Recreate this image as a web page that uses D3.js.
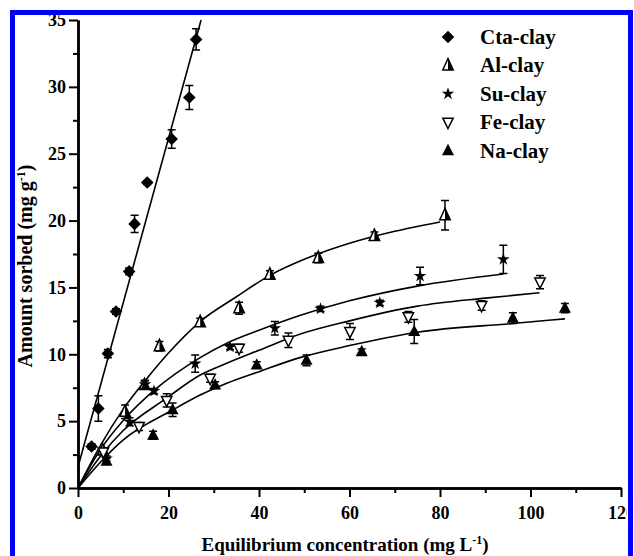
<!DOCTYPE html>
<html>
<head>
<meta charset="utf-8">
<script src="https://cdn.jsdelivr.net/npm/d3@7"></script>
<style>
  body { margin: 0; background: #fff; }
  svg { display: block; }
  text { font-family: "Liberation Serif", "Times New Roman", serif; font-weight: bold; fill: #000; }
</style>
</head>
<body>
<svg width="634" height="556"></svg>
<script>
// measured points (equilibrium concentration, amount sorbed, error)
var ctaConc = [3.0, 4.5, 6.6, 8.4, 11.3, 12.5, 15.3, 20.7, 24.6, 26.1],
    ctaAmount = [3.1, 5.95, 10.05, 13.2, 16.2, 19.75, 22.85, 26.1, 29.2, 33.55],
    ctaErr = [0.2, 0.95, 0.3, 0.2, 0.25, 0.65, 0.15, 0.7, 0.9, 0.8];

var alConc = [5.5, 10.4, 14.7, 18.0, 27.0, 35.6, 42.4, 53.1, 65.5, 81.1],
    alAmount = [2.8, 5.7, 7.7, 10.6, 12.4, 13.45, 15.95, 17.2, 18.85, 20.4],
    alErr = [0.2, 0.5, 0.3, 0.35, 0.3, 0.45, 0.3, 0.35, 0.3, 1.1];

var suConc = [6.3, 11.4, 14.8, 16.8, 25.9, 33.6, 43.5, 53.6, 66.7, 75.6, 94.0],
    suAmount = [2.2, 4.95, 7.75, 7.25, 9.3, 10.55, 11.95, 13.4, 13.85, 15.85, 17.1],
    suErr = [0.2, 0.3, 0.3, 0.2, 0.65, 0.2, 0.5, 0.2, 0.2, 0.65, 1.05];

var feConc = [5.6, 13.5, 19.6, 29.2, 35.6, 46.5, 60.1, 73.0, 89.2, 102.1],
    feAmount = [2.7, 4.6, 6.55, 8.2, 10.45, 11.05, 11.7, 12.8, 13.65, 15.4],
    feErr = [0.2, 0.3, 0.5, 0.3, 0.3, 0.55, 0.6, 0.4, 0.35, 0.5];

var naConc = [6.3, 16.6, 20.9, 30.3, 39.5, 50.5, 62.7, 74.3, 96.1, 107.6],
    naAmount = [2.0, 3.95, 5.85, 7.7, 9.2, 9.55, 10.2, 11.7, 12.7, 13.45],
    naErr = [0.2, 0.3, 0.5, 0.25, 0.25, 0.4, 0.2, 0.9, 0.4, 0.35];

// fitted curves
var ctaFitX = [0, 27.2], ctaFitY = [1.57, 35];
var alFitX = [0, 5, 10, 15, 20, 27, 35, 42.4, 50, 60, 70, 80],
    alFitY = [0, 3.2, 5.9, 8.1, 10.1, 12.45, 14.3, 15.9, 17.1, 18.3, 19.2, 19.9];
var suFitX = [0, 5, 10, 17, 27, 33, 40, 49, 60, 75, 94],
    suFitY = [0, 2.9, 5.05, 7.35, 9.75, 10.85, 11.8, 12.9, 14.0, 15.1, 16.0];
var feFitX = [0, 5, 10, 19.5, 27, 33, 40, 49, 60, 75, 90, 102],
    feFitY = [0, 2.4, 4.3, 6.7, 8.45, 9.35, 10.3, 11.5, 12.5, 13.6, 14.2, 14.6];
var naFitX = [0, 5, 10, 21, 27, 33, 40, 49, 60, 75, 96, 107.6],
    naFitY = [0, 1.95, 3.6, 5.85, 6.95, 7.85, 8.7, 9.75, 10.65, 11.65, 12.3, 12.65];

var seriesNames = ["Cta-clay", "Al-clay", "Su-clay", "Fe-clay", "Na-clay"];
var xTicks = [0, 20, 40, 60, 80, 100, 120],
    yTicks = [0, 5, 10, 15, 20, 25, 30, 35];

var svg = d3.select("svg");

var x = d3.scaleLinear().domain([0, 120]).range([78, 621]),
    y = d3.scaleLinear().domain([0, 35]).range([488, 20]);

function zip(a, b, e) {
    return a.map(function (v, i) { return {x: v, y: b[i], e: e ? e[i] : 0}; });
}

var series = [
    {name: seriesNames[0], pts: zip(ctaConc, ctaAmount, ctaErr), fit: zip(ctaFitX, ctaFitY), shape: "diamond"},
    {name: seriesNames[1], pts: zip(alConc, alAmount, alErr), fit: zip(alFitX, alFitY), shape: "half"},
    {name: seriesNames[2], pts: zip(suConc, suAmount, suErr), fit: zip(suFitX, suFitY), shape: "star"},
    {name: seriesNames[3], pts: zip(feConc, feAmount, feErr), fit: zip(feFitX, feFitY), shape: "down"},
    {name: seriesNames[4], pts: zip(naConc, naAmount, naErr), fit: zip(naFitX, naFitY), shape: "up"}
];

svg.append("defs").append("clipPath").attr("id", "frame")
    .append("rect").attr("x", 15).attr("y", 15).attr("width", 612).attr("height", 560);

var g = svg.append("g").attr("clip-path", "url(#frame)");

// symbols
function drawSymbol(sel, shape, s) {
    var h = s * 0.95, w = s;
    if (shape === "diamond") {
        sel.append("path")
            .attr("d", d3.symbol().type(d3.symbolSquare).size(s * s * 0.55)())
            .attr("transform", "rotate(45)")
            .attr("fill", "#000");
    } else if (shape === "up") {
        sel.append("path")
            .attr("d", "M0," + (-h * 0.6) + "L" + (w / 2) + "," + (h * 0.4) + "L" + (-w / 2) + "," + (h * 0.4) + "Z")
            .attr("fill", "#000");
    } else if (shape === "down") {
        sel.append("path")
            .attr("d", "M0," + (h * 0.55) + "L" + (w / 2 - 0.8) + "," + (-h * 0.35) + "L" + (-w / 2 + 0.8) + "," + (-h * 0.35) + "Z")
            .attr("fill", "#fff").attr("stroke", "#000").attr("stroke-width", 1.5);
    } else if (shape === "half") {
        sel.append("path")
            .attr("d", "M0," + (-h * 0.6) + "L" + (w / 2 - 0.8) + "," + (h * 0.4) + "L" + (-w / 2 + 0.8) + "," + (h * 0.4) + "Z")
            .attr("fill", "#fff").attr("stroke", "#000").attr("stroke-width", 1.5);
        sel.append("path")
            .attr("d", "M0," + (-h * 0.6) + "L" + (w / 2 - 0.8) + "," + (h * 0.4) + "L0," + (h * 0.4) + "Z")
            .attr("fill", "#000");
    } else if (shape === "star") {
        sel.append("path")
            .attr("d", d3.symbol().type(d3.symbolStar).size(s * s * 0.34)())
            .attr("fill", "#000");
    }
}

// fit lines
var line = d3.line()
    .x(function (d) { return x(d.x); })
    .y(function (d) { return y(d.y); })
    .curve(d3.curveMonotoneX);

g.selectAll(".fit")
    .data(series)
    .enter().append("path")
    .attr("class", "fit")
    .attr("d", function (d) { return line(d.fit); })
    .attr("fill", "none")
    .attr("stroke", "#000")
    .attr("stroke-width", 1.6);

// error bars and markers
series.forEach(function (s) {
    var pts = g.append("g").selectAll("g")
        .data(s.pts)
        .enter().append("g")
        .attr("transform", function (d) { return "translate(" + x(d.x) + "," + y(d.y) + ")"; });

    pts.append("path")
        .attr("d", function (d) {
            var t = y(d.y + d.e) - y(d.y), b = y(d.y - d.e) - y(d.y);
            return "M-4," + t + "H4M0," + t + "V" + b + "M-4," + b + "H4";
        })
        .attr("fill", "none")
        .attr("stroke", "#000")
        .attr("stroke-width", 1.5);

    pts.each(function () { drawSymbol(d3.select(this), s.shape, 12); });
});

// axes
var xAxis = g.append("g").attr("transform", "translate(0," + y(0) + ")")
    .call(d3.axisBottom(x).tickValues(xTicks).tickFormat(d3.format("d")).tickSize(9).tickSizeOuter(0).tickPadding(9));
var xMinor = g.append("g").attr("transform", "translate(0," + y(0) + ")")
    .call(d3.axisBottom(x).tickValues(d3.range(10, 120, 20)).tickFormat("").tickSize(5).tickSizeOuter(0));
var yAxis = g.append("g").attr("transform", "translate(" + x(0) + ",0)")
    .call(d3.axisLeft(y).tickValues(yTicks).tickFormat(d3.format("d")).tickSize(9).tickSizeOuter(0).tickPadding(3));
var yMinor = g.append("g").attr("transform", "translate(" + x(0) + ",0)")
    .call(d3.axisLeft(y).tickValues(d3.range(2.5, 35, 5)).tickFormat("").tickSize(5).tickSizeOuter(0));

[xAxis, xMinor, yAxis, yMinor].forEach(function (a) {
    a.attr("font-family", null);
    a.select(".domain").attr("stroke", "#000").attr("stroke-width", 2.5);
    a.selectAll(".tick line").attr("stroke", "#000").attr("stroke-width", 2);
    a.selectAll(".tick text")
        .style("font-family", '"Liberation Serif", "Times New Roman", serif')
        .style("font-weight", "bold")
        .style("font-size", "18px")
        .attr("fill", "#000");
});

// axis titles
var xTitle = g.append("text")
    .attr("x", 345).attr("y", 551)
    .attr("text-anchor", "middle")
    .style("font-size", "19px");
xTitle.append("tspan").text("Equilibrium concentration (mg L");
xTitle.append("tspan").attr("dy", -7).style("font-size", "12px").text("-1");
xTitle.append("tspan").attr("dy", 7).text(")");

var yTitle = g.append("text")
    .attr("transform", "translate(32,266) rotate(-90)")
    .attr("text-anchor", "middle")
    .style("font-size", "20px");
yTitle.append("tspan").text("Amount sorbed (mg g");
yTitle.append("tspan").attr("dy", -7).style("font-size", "12px").text("-1");
yTitle.append("tspan").attr("dy", 7).text(")");

// legend
var legend = g.append("g").selectAll("g")
    .data(series)
    .enter().append("g")
    .attr("transform", function (d, i) { return "translate(448," + (37 + i * 28.4) + ")"; });

legend.each(function (d) { drawSymbol(d3.select(this), d.shape, 12); });
legend.append("text")
    .attr("x", 32).attr("y", 7)
    .style("font-size", "21px")
    .text(function (d) { return d.name; });

// blue frame
svg.append("rect")
    .attr("x", 12.5).attr("y", 12.5)
    .attr("width", 618).attr("height", 600)
    .attr("fill", "none")
    .attr("stroke", "#0000ff")
    .attr("stroke-width", 5);
</script>
</body>
</html>
